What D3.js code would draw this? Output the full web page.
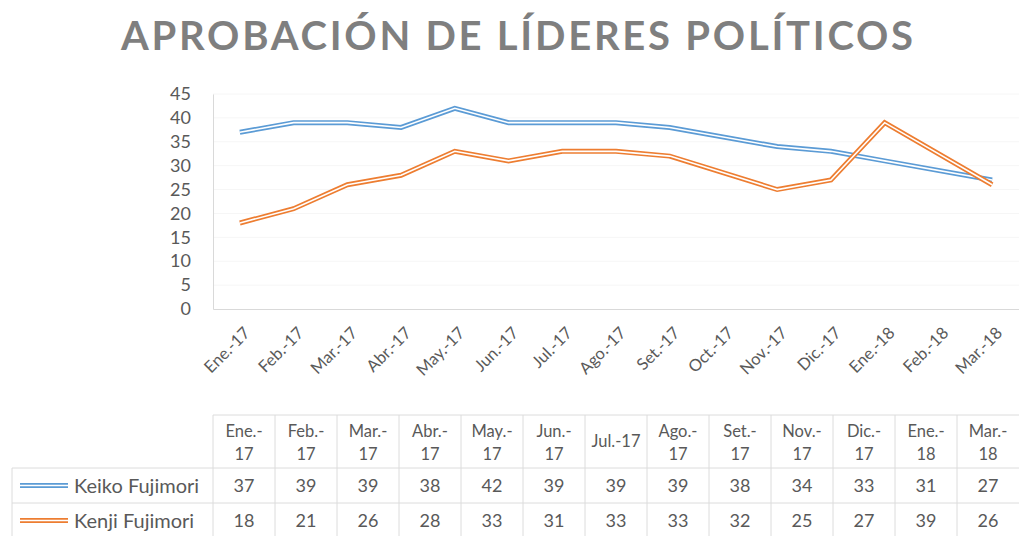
<!DOCTYPE html>
<html>
<head>
<meta charset="utf-8">
<script src="https://cdn.jsdelivr.net/npm/d3@7"></script>
<style>
  body { margin: 0; background: #fff; }
  text { font-family: Lato, "Open Sans", sans-serif; fill: #595959; }
</style>
</head>
<body>
<script>
// Chart data
var axisMonths = ["Ene.-17", "Feb.-17", "Mar.-17", "Abr.-17", "May.-17", "Jun.-17", "Jul.-17",
  "Ago.-17", "Set.-17", "Oct.-17", "Nov.-17", "Dic.-17", "Ene.-18", "Feb.-18", "Mar.-18"];
var tableMonths = ["Ene.-17", "Feb.-17", "Mar.-17", "Abr.-17", "May.-17", "Jun.-17", "Jul.-17",
  "Ago.-17", "Set.-17", "Nov.-17", "Dic.-17", "Ene.-18", "Mar.-18"];
var seriesNames = ["Keiko Fujimori", "Kenji Fujimori"];
var keiko = [37, 39, 39, 38, 42, 39, 39, 39, 38, 34, 33, 31, 27];
var kenji = [18, 21, 26, 28, 33, 31, 33, 33, 32, 25, 27, 39, 26];
var yTicks = [0, 5, 10, 15, 20, 25, 30, 35, 40, 45];
var colors = ["#5b9bd5", "#ed7d31"];
var title = "APROBACIÓN DE LÍDERES POLÍTICOS";

var W = 1019, H = 536;
var plot = { left: 213, right: 1019, top: 94, bottom: 309 };
var table = { top: 415, headH: 53, rowH: 35, labelLeft: 12 };

var svg = d3.select("body").append("svg")
  .attr("width", W)
  .attr("height", H);

// Title
svg.append("text")
  .attr("x", 517)
  .attr("y", 50)
  .attr("text-anchor", "middle")
  .attr("textLength", 792)
  .attr("lengthAdjust", "spacing")
  .style("font-size", "40px")
  .style("font-weight", "bold")
  .style("fill", "#7f7f7f")
  .text(title);

// Scales
var xScale = d3.scaleBand()
  .domain(axisMonths)
  .range([plot.left, plot.right]);

var yScale = d3.scaleLinear()
  .domain([0, 45])
  .range([plot.bottom, plot.top]);

function xPos(m) { return xScale(m) + xScale.bandwidth() / 2; }

// faint gridlines
svg.append("g")
  .selectAll("line")
  .data(yTicks.slice(1))
  .enter()
  .append("line")
  .attr("x1", plot.left)
  .attr("x2", plot.right)
  .attr("y1", function(d) { return yScale(d); })
  .attr("y2", function(d) { return yScale(d); })
  .attr("stroke", "#f6f6f6");

// Y axis
var yAxis = d3.axisLeft(yScale).tickValues(yTicks).tickSize(0).tickPadding(22);
var gy = svg.append("g")
  .attr("transform", "translate(" + plot.left + ",0)")
  .call(yAxis);
gy.select(".domain").attr("stroke", "#d9d9d9");
gy.selectAll("text")
  .style("font-size", "18px")
  .style("font-family", "Lato, sans-serif")
  .attr("fill", "#595959");

// X axis
var xAxis = d3.axisBottom(xScale).tickSize(0).tickPadding(0);
var gx = svg.append("g")
  .attr("transform", "translate(0," + plot.bottom + ")")
  .call(xAxis);
gx.select(".domain").attr("stroke", "#d9d9d9");
gx.selectAll("text")
  .style("font-size", "16.5px")
  .style("font-family", "Lato, sans-serif")
  .attr("fill", "#595959")
  .attr("text-anchor", "end")
  .attr("dy", "0.35em")
  .attr("y", 0)
  .attr("transform", "translate(7,21) rotate(-45)");

// Lines (double compound style)
var line = d3.line()
  .x(function(d) { return xPos(d.month); })
  .y(function(d) { return yScale(d.value); });

[keiko, kenji].forEach(function(values, i) {
  var pts = tableMonths.map(function(m, j) { return { month: m, value: values[j] }; });
  svg.append("path")
    .datum(pts)
    .attr("d", line)
    .attr("fill", "none")
    .attr("stroke", colors[i])
    .attr("stroke-width", 5);
  svg.append("path")
    .datum(pts)
    .attr("d", line)
    .attr("fill", "none")
    .attr("stroke", "#fff")
    .attr("stroke-width", 1.6);
});

// Data table
var colW = (plot.right - plot.left) / tableMonths.length;
var tb = svg.append("g");
var border = "#dcdcdc";
var yRow1 = table.top + table.headH;
var yRow2 = yRow1 + table.rowH;
var yEnd = yRow2 + table.rowH;

// horizontal borders
tb.append("line").attr("x1", plot.left).attr("x2", W).attr("y1", table.top).attr("y2", table.top).attr("stroke", border);
[yRow1, yRow2].forEach(function(y) {
  tb.append("line").attr("x1", table.labelLeft).attr("x2", W).attr("y1", y).attr("y2", y).attr("stroke", border);
});
// vertical borders
tb.append("line").attr("x1", table.labelLeft).attr("x2", table.labelLeft).attr("y1", yRow1).attr("y2", yEnd).attr("stroke", border);
d3.range(tableMonths.length).forEach(function(i) {
  var x = plot.left + i * colW;
  tb.append("line").attr("x1", x).attr("x2", x).attr("y1", table.top).attr("y2", yEnd).attr("stroke", border);
});

// header cells, wrapped when too wide for the column
tableMonths.forEach(function(m, i) {
  var cx = plot.left + (i + 0.5) * colW;
  var t = tb.append("text")
    .attr("x", cx)
    .attr("y", table.top + table.headH / 2)
    .attr("dy", "0.35em")
    .attr("text-anchor", "middle")
    .style("font-size", "16.5px")
    .text(m);
  if (t.node().getComputedTextLength() > colW - 13) {
    var parts = m.split("-");
    t.text(null);
    t.attr("dy", null).attr("y", table.top + 22);
    t.append("tspan").attr("x", cx).text(parts[0] + "-");
    t.append("tspan").attr("x", cx).attr("dy", 23).text(parts[1]);
  }
});

// value rows + legend keys
[keiko, kenji].forEach(function(values, r) {
  var cy = yRow1 + r * table.rowH + table.rowH / 2;
  tb.append("line").attr("x1", 20).attr("x2", 68).attr("y1", cy).attr("y2", cy)
    .attr("stroke", colors[r]).attr("stroke-width", 5);
  tb.append("line").attr("x1", 20).attr("x2", 68).attr("y1", cy).attr("y2", cy)
    .attr("stroke", "#fff").attr("stroke-width", 1.6);
  tb.append("text")
    .attr("x", 74)
    .attr("y", cy)
    .attr("dy", "0.35em")
    .style("font-size", "20px")
    .text(seriesNames[r]);
  values.forEach(function(v, i) {
    tb.append("text")
      .attr("x", plot.left + (i + 0.5) * colW)
      .attr("y", cy)
      .attr("dy", "0.35em")
      .attr("text-anchor", "middle")
      .style("font-size", "18px")
      .text(v);
  });
});
</script>
</body>
</html>
